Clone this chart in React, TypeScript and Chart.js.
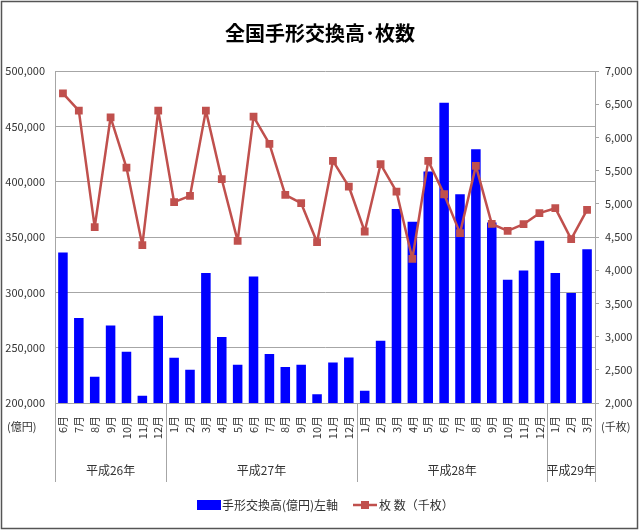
import React, { useEffect, useRef } from "react";
import { Chart, registerables } from "chart.js";

Chart.register(...registerables);

const months: string[] = [
  "6月", "7月", "8月", "9月", "10月", "11月", "12月",
  "1月", "2月", "3月", "4月", "5月", "6月", "7月", "8月", "9月", "10月", "11月", "12月",
  "1月", "2月", "3月", "4月", "5月", "6月", "7月", "8月", "9月", "10月", "11月", "12月",
  "1月", "2月", "3月",
];

const yearLabels: string[] = ["平成26年", "平成27年", "平成28年", "平成29年"];
const yearStarts: number[] = [0, 7, 19, 31, 34];

const amountValues: number[] = [
  336000, 276700, 223800, 270100, 246300, 206600, 278800,
  240900, 230100, 317400, 259600, 234600, 314300, 244200, 232500, 234600, 207800, 236700, 241200,
  211100, 256300, 375400, 363700, 409100, 471400, 388700, 429300, 363000, 311300, 319800, 346500,
  317400, 299300, 339000,
];

const countValues: number[] = [
  6664, 6403, 4648, 6303, 5546, 4377, 6403,
  5024, 5119, 6403, 5370, 4442, 6313, 5902, 5134, 5009, 4422, 5646, 5260,
  4583, 5596, 5185, 4172, 5646, 5144, 4558, 5571, 4698, 4593, 4693, 4859,
  4934, 4467, 4909,
];

const titleText = "全国手形交換高･枚数";
const seriesNames: string[] = ["手形交換高(億円)左軸", "枚 数（千枚）"];
const unitLeft = "(億円)";
const unitRight = "(千枚)";

const FONT = '"Noto Sans CJK JP", "Noto Sans", sans-serif';
const BAR_COLOR = "#0000FF";
const LINE_COLOR = "rgb(192,80,77)";
const GRID_COLOR = "#a6a6a6";
const TEXT_COLOR = "#333333";

const decorPlugin = {
  id: "decor",
  afterDraw(chart: any) {
    const ctx = chart.ctx as CanvasRenderingContext2D;
    const x = chart.scales.x;
    const area = chart.chartArea;
    const step = (area.right - area.left) / months.length;
    ctx.save();
    // title
    ctx.fillStyle = "#000";
    ctx.font = `bold 20px ${FONT}`;
    ctx.textAlign = "center";
    ctx.textBaseline = "middle";
    ctx.fillText(titleText, 320, 33);

    // year separators and labels
    ctx.strokeStyle = GRID_COLOR;
    ctx.lineWidth = 1;
    for (let i = 0; i < yearStarts.length; i++) {
      const idx = yearStarts[i];
      const px = Math.round(x.getPixelForValue(Math.min(idx, months.length - 1)) + (idx >= months.length ? step / 2 : -step / 2)) + 0.5;
      ctx.beginPath();
      ctx.moveTo(px, area.bottom);
      ctx.lineTo(px, 482);
      ctx.stroke();
    }
    ctx.fillStyle = TEXT_COLOR;
    ctx.font = `12px ${FONT}`;
    for (let i = 0; i < yearLabels.length; i++) {
      const a = x.getPixelForValue(yearStarts[i]) - step / 2;
      const b = x.getPixelForValue(yearStarts[i + 1] - 1) + step / 2;
      ctx.fillText(yearLabels[i], (a + b) / 2, 470);
    }

    // units
    ctx.font = `11px ${FONT}`;
    ctx.textAlign = "left";
    ctx.fillText(unitLeft, 7, 427);
    ctx.fillText(unitRight, 601, 427);

    // legend
    ctx.fillStyle = BAR_COLOR;
    ctx.fillRect(197, 500, 24, 10);
    ctx.fillStyle = TEXT_COLOR;
    ctx.font = `12px ${FONT}`;
    ctx.textAlign = "left";
    ctx.fillText(seriesNames[0], 222, 505);
    ctx.strokeStyle = LINE_COLOR;
    ctx.lineWidth = 2.5;
    ctx.beginPath();
    ctx.moveTo(353, 505);
    ctx.lineTo(377, 505);
    ctx.stroke();
    ctx.fillStyle = LINE_COLOR;
    ctx.fillRect(361, 501, 8, 8);
    ctx.fillStyle = TEXT_COLOR;
    ctx.fillText(seriesNames[1], 379, 505);

    // outer border
    ctx.strokeStyle = "#555";
    ctx.lineWidth = 1.5;
    ctx.strokeRect(1.5, 1.5, 636, 527);
    ctx.restore();
  },
};

export default function App() {
  const ref = useRef<HTMLCanvasElement | null>(null);
  useEffect(() => {
    document.body.style.margin = "0";
    if (!ref.current) return;
    Chart.defaults.font.family = FONT;
    const chart = new Chart(ref.current, {
      type: "bar",
      data: {
        labels: months,
        datasets: [
          {
            type: "line",
            label: seriesNames[1],
            data: countValues,
            yAxisID: "y1",
            borderColor: LINE_COLOR,
            backgroundColor: LINE_COLOR,
            borderWidth: 2.5,
            borderJoinStyle: "round",
            borderCapStyle: "round",
            pointStyle: "rect",
            pointRadius: 5.5,
            pointBorderWidth: 0,
            tension: 0,
            order: 0,
          } as any,
          {
            type: "bar",
            label: seriesNames[0],
            data: amountValues,
            yAxisID: "y",
            backgroundColor: BAR_COLOR,
            barPercentage: 0.6,
            categoryPercentage: 1.0,
            order: 1,
          },
        ],
      },
      options: {
        responsive: false,
        animation: false,
        layout: { autoPadding: false, padding: { top: 71, left: 0, right: 0, bottom: 0 } } as any,
        plugins: {
          legend: { display: false },
          tooltip: { enabled: false },
          title: { display: false },
        },
        scales: {
          x: {
            type: "category",
            grid: { display: false, drawTicks: false },
            border: { display: true, color: GRID_COLOR },
            ticks: {
              autoSkip: false,
              maxRotation: 90,
              minRotation: 90,
              padding: 13,
              color: TEXT_COLOR,
              font: { size: 11 },
            },
            afterFit: (s: any) => {
              s.height = 128;
            },
          },
          y: {
            position: "left",
            min: 200000,
            max: 500000,
            grid: { color: GRID_COLOR, drawTicks: false, lineWidth: 1 },
            border: { display: true, color: GRID_COLOR },
            ticks: {
              stepSize: 50000,
              padding: 10,
              color: TEXT_COLOR,
              font: { size: 11 },
              callback: (v: any) => Number(v).toLocaleString("en-US"),
            },
            afterFit: (s: any) => {
              s.width = 55;
            },
          },
          y1: {
            position: "right",
            min: 2000,
            max: 7000,
            grid: { drawOnChartArea: false, drawTicks: true, tickLength: 4, color: GRID_COLOR },
            border: { display: true, color: GRID_COLOR },
            ticks: {
              stepSize: 500,
              padding: 6,
              color: TEXT_COLOR,
              font: { size: 11 },
              callback: (v: any) => Number(v).toLocaleString("en-US"),
            },
            afterFit: (s: any) => {
              s.width = 45;
            },
          },
        },
      },
      plugins: [decorPlugin],
    });
    return () => chart.destroy();
  }, []);
  return (
    <div style={{ width: 640, height: 531, background: "#fff" }}>
      <canvas ref={ref} width={640} height={531} style={{ display: "block" }} />
    </div>
  );
}
